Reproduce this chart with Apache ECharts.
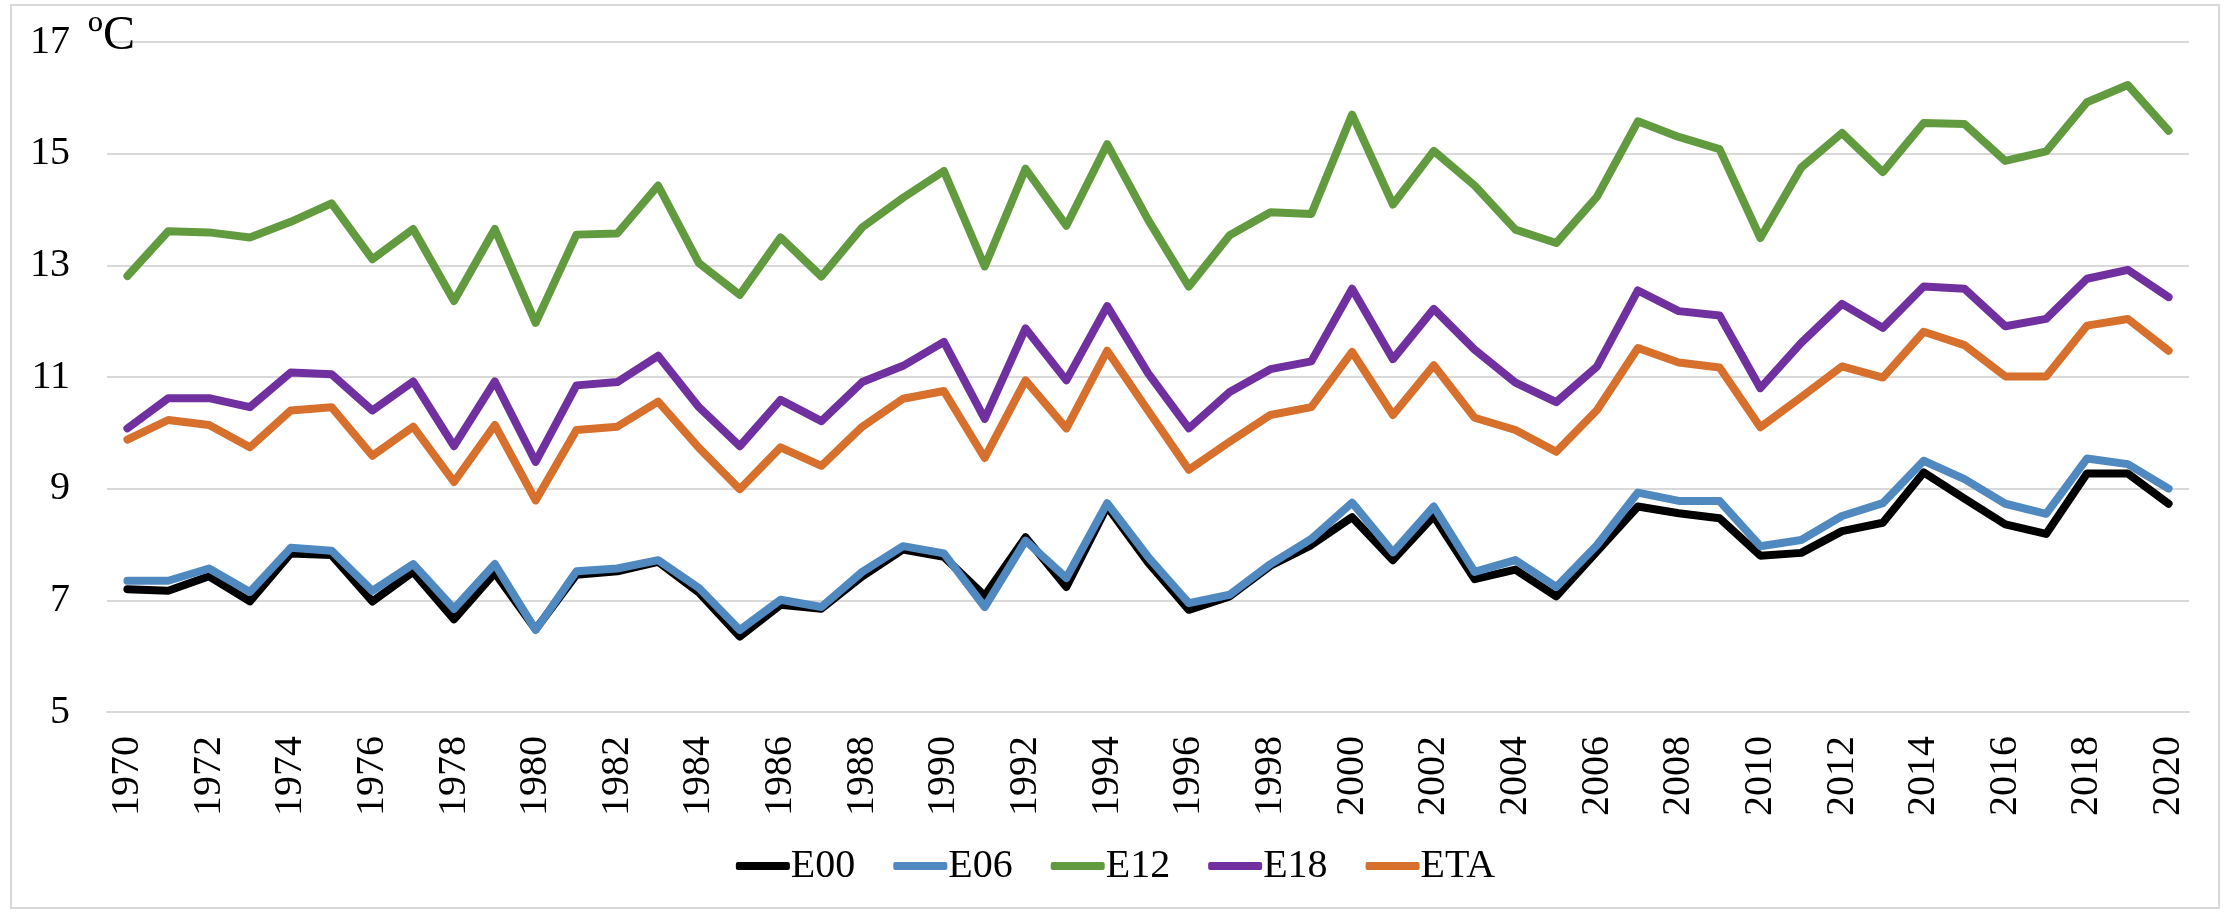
<!DOCTYPE html>
<html>
<head>
<meta charset="utf-8">
<script src="https://cdn.jsdelivr.net/npm/echarts@6/dist/echarts.min.js"></script>
<style>
html,body{margin:0;padding:0;background:#fff;}
#chart{width:2231px;height:913px;}
</style>
</head>
<body>
<div id="chart"></div>
<script>
const years = [];
for (let y = 1970; y <= 2020; y++) years.push(String(y));

const E00 = [7.20,7.17,7.43,6.98,7.84,7.81,6.98,7.51,6.66,7.49,6.48,7.46,7.52,7.69,
  7.14,6.35,6.92,6.85,7.43,7.91,7.78,7.08,8.13,7.24,8.68,7.68,6.83,
  7.07,7.62,7.99,8.49,7.72,8.51,7.38,7.55,7.07,7.88,8.68,8.56,8.47,
  7.80,7.85,8.24,8.39,9.29,8.82,8.36,8.19,9.27,9.27,8.73];
const E06 = [7.35,7.35,7.57,7.15,7.94,7.89,7.17,7.65,6.85,7.65,6.47,7.52,7.57,7.72,
  7.22,6.47,7.01,6.88,7.51,7.97,7.84,6.88,8.07,7.40,8.74,7.78,6.95,
  7.10,7.65,8.10,8.75,7.86,8.68,7.51,7.72,7.24,7.99,8.93,8.78,8.78,
  7.97,8.08,8.51,8.74,9.50,9.17,8.73,8.55,9.54,9.44,9.00];
const E12 = [12.81,13.61,13.59,13.50,13.78,14.11,13.11,13.65,12.36,13.65,11.97,13.55,13.57,14.43,
  13.04,12.47,13.50,12.80,13.68,14.21,14.69,12.98,14.73,13.71,15.17,13.82,12.62,
  13.54,13.95,13.92,15.70,14.09,15.05,14.43,13.64,13.40,14.23,15.58,15.30,15.08,
  13.49,14.75,15.37,14.67,15.55,15.53,14.87,15.04,15.92,16.23,15.41];
const E18 = [10.08,10.62,10.62,10.46,11.08,11.05,10.40,10.92,9.76,10.92,9.48,10.85,10.91,11.38,
  10.46,9.76,10.59,10.21,10.91,11.20,11.63,10.25,11.87,10.94,12.27,11.07,10.08,
  10.73,11.14,11.28,12.58,11.32,12.22,11.49,10.90,10.55,11.19,12.55,12.18,12.10,
  10.80,11.61,12.31,11.88,12.62,12.58,11.91,12.04,12.76,12.92,12.43];
const ETA = [9.88,10.23,10.14,9.74,10.40,10.46,9.59,10.11,9.12,10.14,8.79,10.05,10.11,10.56,
  9.73,8.99,9.74,9.41,10.11,10.61,10.75,9.55,10.94,10.08,11.47,10.40,9.34,
  9.84,10.32,10.46,11.45,10.32,11.21,10.27,10.05,9.66,10.41,11.52,11.26,11.17,
  10.10,10.64,11.19,10.99,11.81,11.57,11.01,11.01,11.92,12.04,11.47];

const seriesNames = ['E00','E06','E12','E18','ETA'];
const seriesData = [E00, E06, E12, E18, ETA];
const colors = ['#000000','#4f89bf','#629b3f','#7030a0','#d6702c'];
const unitLabel = 'ºC';

const FONT = 'Liberation Serif';

const chart = echarts.init(document.getElementById('chart'), null, {renderer:'canvas'});
chart.setOption({
  animation: false,
  backgroundColor: '#ffffff',
  color: colors,
  graphic: [
    {type:'rect', shape:{x:11, y:5, width:2208, height:903},
     style:{fill:'none', stroke:'#d9d9d9', lineWidth:2}, silent:true, z:-1},
    {type:'text', left:88, top:12, z:10,
     style:{text:unitLabel, fontSize:48, fontFamily:FONT, fill:'#000'}}
  ],
  grid: {left:107, right:42, top:42, bottom:201, containLabel:false},
  legend: {
    bottom: 22,
    left: 'center',
    itemWidth: 54,
    itemHeight: 8,
    itemGap: 38,
    icon: 'roundRect',
    textStyle: {fontFamily: FONT, fontSize: 40, color:'#000', padding:[0,0,0,-4]},
    data: seriesNames
  },
  xAxis: {
    type: 'category',
    data: years,
    boundaryGap: true,
    axisLine: {show:true, lineStyle:{color:'#d9d9d9', width:2}},
    axisTick: {show:false},
    axisLabel: {interval:1, rotate:90, margin:24, fontFamily:FONT, fontSize:40, color:'#000'},
    splitLine: {show:false}
  },
  yAxis: {
    type: 'value',
    min: 5, max: 17, interval: 2,
    axisLine: {show:false},
    axisTick: {show:false},
    axisLabel: {margin:37, fontFamily:FONT, fontSize:40, color:'#000'},
    splitLine: {show:true, lineStyle:{color:'#d9d9d9', width:2}}
  },
  series: seriesNames.map((n, i) => ({
    name: n,
    type: 'line',
    data: seriesData[i],
    symbol: 'none',
    lineStyle: {width: 8, color: colors[i], cap:'round', join:'round'},
    itemStyle: {color: colors[i]},
    z: 2 + i
  }))
});
</script>
</body>
</html>
